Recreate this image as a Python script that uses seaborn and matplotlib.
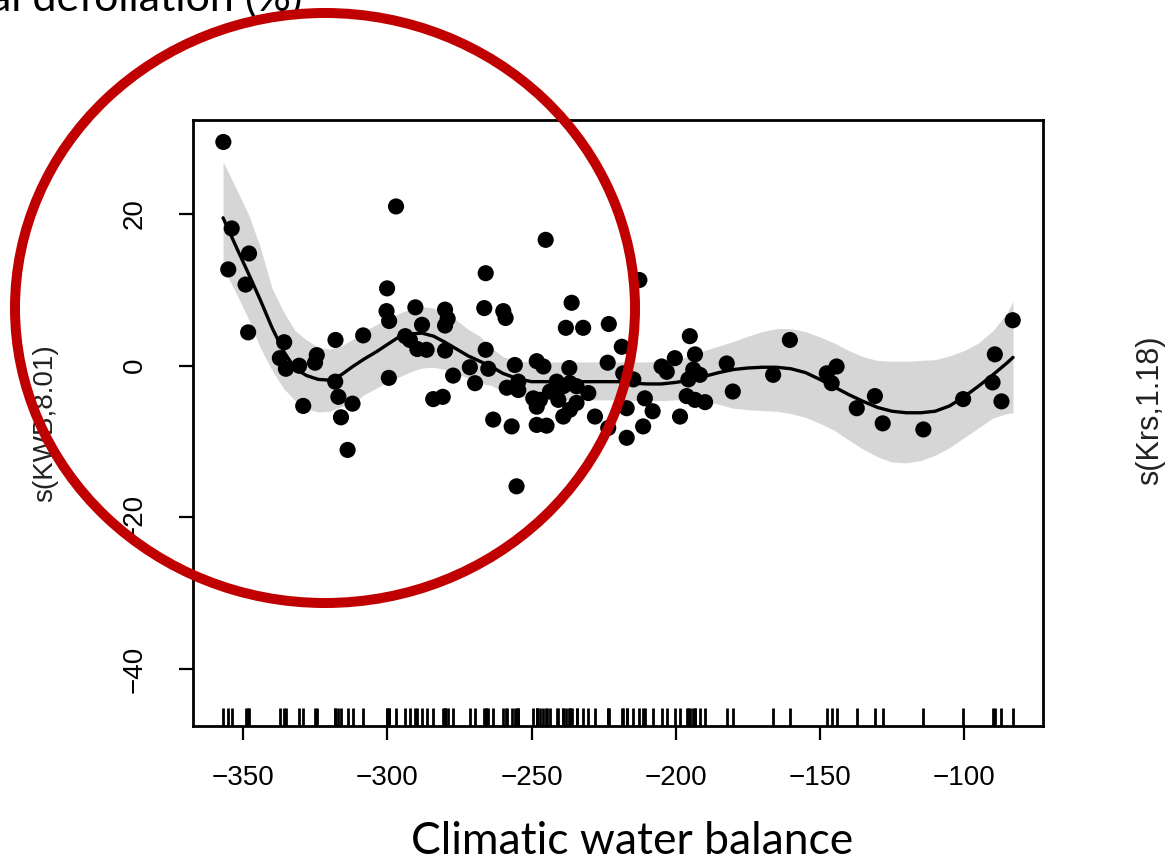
import matplotlib
matplotlib.use("Agg")
import matplotlib.pyplot as plt
import seaborn as sns
import pandas as pd
from matplotlib.patches import Ellipse

# ---------------- data ----------------
pt_x = [-356.9, -354.0, -355.2, -348.0, -349.2, -348.3, -335.8, -337.3, -335.2, -330.6,
        -324.5, -325.1, -318.0, -308.4, -318.1, -329.2, -317.0, -312.1, -316.1, -313.8,
        -297.0, -300.1, -300.3, -299.4, -290.3, -288.0, -293.8, -292.2, -289.6, -286.4,
        -280.0, -279.1, -280.0, -280.0, -299.5, -277.2, -284.1, -280.8, -271.4, -269.6,
        -265.9, -266.4, -259.8, -259.0, -245.1, -236.1, -238.1, -232.1, -223.2, -212.6,
        -218.7, -265.9, -265.0, -255.8, -254.6, -248.2, -245.9, -236.9, -223.6, -258.6,
        -254.6, -249.4, -247.1, -248.2, -241.3, -239.0, -236.7, -234.4, -243.6, -240.7,
        -230.3, -234.4, -236.7, -239.0, -228.0, -263.3, -256.9, -248.2, -244.8, -223.4,
        -217.0, -218.2, -214.7, -210.7, -217.0, -211.3, -208.0, -255.2, -204.9, -203.1,
        -200.3, -195.1, -193.3, -193.9, -191.6, -195.6, -196.2, -193.3, -189.8, -198.5,
        -182.3, -180.2, -166.2, -160.4, -147.6, -144.2, -145.9, -137.2, -130.9, -128.2,
        -114.1, -100.3, -89.3, -90.1, -87.0, -83.1]
pt_y = [29.5, 18.1, 12.7, 14.8, 10.7, 4.4, 3.1, 1.0, -0.4, 0.0,
        1.4, 0.4, 3.4, 4.0, -2.1, -5.3, -4.1, -5.0, -6.8, -11.1,
        21.0, 10.2, 7.2, 5.9, 7.7, 5.4, 3.9, 3.4, 2.2, 2.1,
        7.4, 6.2, 5.3, 2.0, -1.6, -1.3, -4.4, -4.1, -0.2, -2.3,
        12.2, 7.6, 7.2, 6.3, 16.6, 8.3, 5.0, 5.0, 5.5, 11.3,
        2.5, 2.1, -0.4, 0.1, -2.1, 0.6, -0.1, -0.3, 0.4, -2.9,
        -3.2, -4.3, -4.5, -5.4, -2.1, -2.7, -2.3, -2.7, -3.4, -4.5,
        -3.6, -4.9, -5.8, -6.7, -6.7, -7.1, -8.0, -7.8, -7.9, -8.2,
        -9.5, -1.0, -1.8, -4.3, -5.6, -8.0, -6.0, -15.9, -0.1, -0.8,
        1.0, 3.9, 1.5, -0.5, -1.2, -1.8, -4.0, -4.5, -4.8, -6.7,
        0.3, -3.4, -1.2, 3.4, -1.0, -0.1, -2.3, -5.6, -4.0, -7.6,
        -8.4, -4.4, 1.5, -2.2, -4.7, 6.0]

fit_x = [-357, -352, -348, -344, -340, -336, -332, -328, -324, -320, -316, -312, -308,
         -304, -300, -296, -292, -288, -284, -280, -276, -272, -268, -264, -260, -255,
         -250, -245, -240, -235, -230, -225, -220, -215, -210, -205, -200, -195, -190,
         -185, -180, -175, -170, -165, -160, -155, -150, -145, -140, -135, -130, -125,
         -120, -115, -110, -105, -100, -95, -90, -85, -83]
fit_y = [19.5, 15.3, 12.0, 8.6, 5.0, 1.9, -0.4, -1.3, -1.8, -1.9, -1.2, -0.1, 0.9,
         1.8, 2.8, 3.8, 4.2, 4.3, 3.9, 3.1, 2.2, 1.3, 0.6, -0.1, -1.0, -1.7,
         -2.1, -2.1, -2.1, -2.1, -2.1, -2.1, -2.1, -2.3, -2.4, -2.4, -2.2, -1.9, -1.4,
         -0.9, -0.5, -0.3, -0.2, -0.2, -0.4, -0.9, -1.8, -2.8, -3.8, -4.7, -5.5, -6.0,
         -6.2, -6.2, -6.0, -5.3, -4.1, -2.7, -1.2, 0.4, 1.1]
fit_upper = [26.9, 23.0, 19.8, 15.5, 10.2, 7.1, 4.6, 3.4, 2.4, 2.2, 2.6, 3.5, 4.5,
             5.4, 6.1, 6.9, 7.5, 7.8, 7.6, 6.9, 6.0, 4.8, 3.9, 2.4, 1.2, 0.6,
             0.5, 0.5, 0.5, 0.5, 0.5, 0.5, 0.5, 0.5, 0.5, 0.6, 0.8, 1.3, 2.0,
             2.6, 3.2, 3.9, 4.5, 4.9, 4.9, 4.5, 3.8, 3.0, 2.0, 1.2, 0.7, 0.6,
             0.6, 0.7, 0.8, 1.3, 2.0, 3.0, 4.6, 7.0, 8.5]
fit_lower = [13.0, 9.2, 6.0, 2.3, -0.6, -3.0, -4.6, -5.7, -6.1, -6.0, -5.4, -4.9, -3.8,
             -3.0, -2.1, -1.5, -0.8, -0.3, -0.2, -0.5, -1.1, -1.6, -2.3, -2.6, -3.4, -4.0,
             -4.3, -4.5, -4.5, -4.5, -4.5, -4.5, -4.5, -4.6, -4.6, -4.6, -4.5, -4.4, -4.6,
             -5.1, -5.6, -5.8, -5.9, -6.0, -6.3, -6.8, -7.6, -8.5, -9.8, -11.0, -12.0, -12.7,
             -12.8, -12.5, -11.8, -10.8, -9.5, -8.2, -6.9, -6.3, -6.2]

x_ticks = [-350, -300, -250, -200, -150, -100]
x_tick_labels = ["\u2212350", "\u2212300", "\u2212250", "\u2212200", "\u2212150", "\u2212100"]
y_ticks = [-40, -20, 0, 20]
y_tick_labels = ["\u221240", "\u221220", "0", "20"]

y_label = "s(KWB,8.01)"
x_caption = "Climatic water balance"
top_caption = "Total defoliation (%)"
right_label = "s(Krs,1.18)"

# ---------------- figure ----------------
sns.set_theme(style="white")
plt.rcParams['font.family'] = ['Liberation Sans', 'DejaVu Sans']

W, H = 1165, 861
fig = plt.figure(figsize=(W / 100, H / 100), dpi=100)
fig.patch.set_facecolor("white")
ax = fig.add_axes([192.5 / W, 1 - 726 / H, (1043 - 192.5) / W, (726 - 120) / H])
ax.set_facecolor("white")

pts = pd.DataFrame({"x": pt_x, "y": pt_y})
fit = pd.DataFrame({"x": fit_x, "y": fit_y, "lo": fit_lower, "hi": fit_upper})

ax.fill_between(fit["x"], fit["lo"], fit["hi"], color="#d6d6d6", lw=0, zorder=1)
sns.lineplot(data=fit, x="x", y="y", color="black", lw=2.4, ax=ax, zorder=2,
             sort=True, estimator=None)
sns.scatterplot(data=pts, x="x", y="y", color="black", s=135, edgecolor="none",
                ax=ax, zorder=3)
sns.rugplot(x=pt_x, height=0.03, color="black", linewidth=2.0, ax=ax,
            expand_margins=False)

ax.set_xlim(-367.6, -72.6)
ax.set_ylim(-47.5, 32.4)
ax.set_xlabel("")
ax.set_ylabel("")

for s in ax.spines.values():
    s.set_visible(True)
    s.set_color("black")
    s.set_linewidth(2.0)

ax.set_xticks(x_ticks)
ax.set_xticklabels(x_tick_labels)
ax.set_yticks(y_ticks)
ax.set_yticklabels(y_tick_labels, rotation=90, va="center")
ax.tick_params(axis="both", direction="out", length=10, width=1.6, colors="black",
               labelsize=20, left=True, bottom=True)
ax.tick_params(axis="x", pad=18)
ax.tick_params(axis="y", pad=22)
ax.grid(False)

fig.text(45 / W, 1 - 423 / H, y_label, rotation=90, ha="center", va="center",
         fontsize=20, color="#222222")
fig.text(1150 / W, 1 - 410 / H, right_label, rotation=90, ha="center", va="center",
         fontsize=22, color="#222222")
fig.text(632 / W, 1 - 854 / H, x_caption, ha="center", va="baseline",
         fontsize=32, family=["Lato", "DejaVu Sans"], color="black")
fig.text(302 / W, 1 - 11 / H, top_caption, ha="right", va="baseline",
         fontsize=31, family=["Lato", "DejaVu Sans"], color="black")

ell = Ellipse((325 / W, 1 - 308 / H), width=2 * 310 / W, height=2 * 295 / H,
              transform=fig.transFigure, fill=False, edgecolor="#c00000", lw=7.2,
              zorder=10)
fig.add_artist(ell)

fig.savefig("out.png", dpi=100, facecolor="white")
